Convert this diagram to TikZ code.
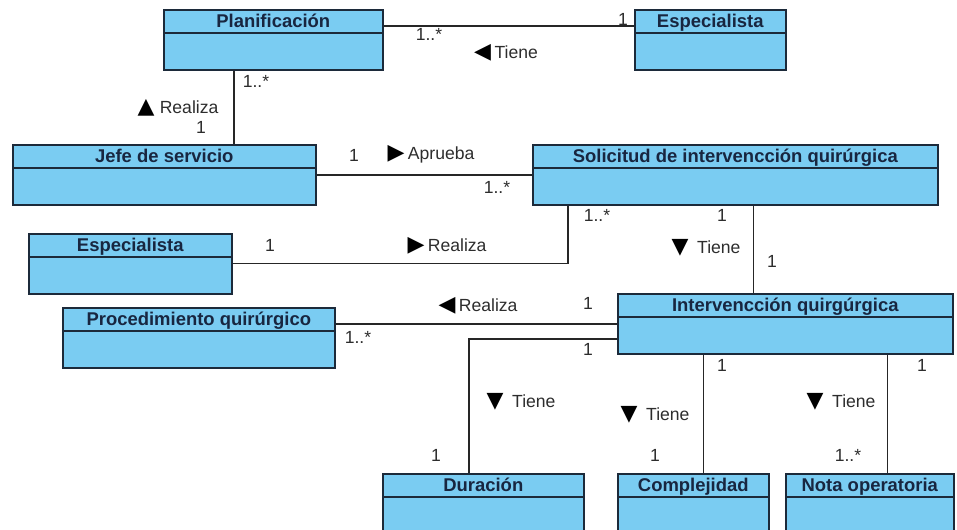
\documentclass[tikz,border=0pt]{standalone}
\usepackage{fontspec}
\setmainfont{Liberation Sans}
\newfontfamily\simbolos{DejaVu Sans}
\definecolor{celeste}{RGB}{122,204,242}
\definecolor{borde}{RGB}{28,42,58}
\definecolor{tinta}{RGB}{24,38,64}
\definecolor{gris}{RGB}{45,45,45}
\newcommand{\trider}{{\color{black}\simbolos\fontsize{12.5}{12}\selectfont ▶}\hspace{2pt}}
\newcommand{\triizq}{{\color{black}\simbolos\fontsize{12.5}{12}\selectfont ◀}\hspace{2pt}}
\newcommand{\triarr}{{\color{black}\simbolos\fontsize{12.5}{12}\selectfont ▲}\hspace{3pt}}
\newcommand{\triaba}{{\color{black}\simbolos\fontsize{12.5}{12}\selectfont ▼}\hspace{5pt}}
\tikzset{
    clase/.style ={draw=borde, fill=celeste, line width=0.9pt, anchor=north west, inner sep=0pt,
        text height=9.8pt, text depth=24.3pt, text=tinta, font=\fontsize{10.5}{12}\selectfont\bfseries,
        path picture={\draw[borde, line width=0.9pt] ([yshift=-13.1pt]path picture bounding box.north west) -- ([yshift=-13.1pt]path picture bounding box.north east);}},
    rol/.style ={font=\fontsize{10}{12}\selectfont, text=gris, inner sep=0pt},
    linea/.style ={line width=0.8pt, draw=black!85}}
\begin{document}
\begin{tikzpicture}[x=0.02cm,y=-0.02cm]
        \useasboundingbox (0,0) rectangle (957,529);
        \node[clase, minimum width=219*0.02cm] (plan) at (163,9) {Planificación};
        \node[clase, minimum width=151*0.02cm] (espa) at (634,9) {Especialista};
        \node[clase, minimum width=303*0.02cm] (jefe) at (12,144) {Jefe de servicio};
        \node[clase, minimum width=405*0.02cm] (soli) at (532,144) {Solicitud de intervencción quirúrgica};
        \node[clase, minimum width=203*0.02cm] (espb) at (28,233) {Especialista};
        \node[clase, minimum width=272*0.02cm] (proc) at (62,307) {Procedimiento quirúrgico};
        \node[clase, minimum width=335*0.02cm] (inte) at (617,293) {Intervencción quirgúrgica};
        \node[clase, minimum width=201*0.02cm] (dura) at (382,473) {Duración};
        \node[clase, minimum width=151*0.02cm] (comp) at (617,473) {Complejidad};
        \node[clase, minimum width=168*0.02cm] (nota) at (785,473) {Nota operatoria};
        \draw[linea] ([yshift=-0.34cm]plan.north east) -- ([yshift=-0.34cm]espa.north west);
        \draw[linea] ([xshift=-0.79cm]plan.south) -- ([xshift=-0.79cm]plan.south |- jefe.north);
        \draw[linea] ([yshift=-0.62cm]jefe.north east) -- ([yshift=-0.62cm]soli.north west);
        \draw[linea] (espb.east) -| ([xshift=0.72cm]soli.south west);
        \draw[linea] ([xshift=0.37cm]soli.south) -- ([xshift=0.37cm]soli.south |- inte.north);
        \draw[linea] ([yshift=-0.34cm]proc.north east) -- ([yshift=-0.34cm]proc.north east -| inte.west);
        \draw[linea] ([yshift=-0.92cm]inte.north west) -| ([xshift=-0.29cm]dura.north);
        \draw[linea] ([xshift=0.21cm]comp.north) -- ([xshift=0.21cm]comp.north |- inte.south);
        \draw[linea] ([xshift=0.36cm]nota.north) -- ([xshift=0.36cm]nota.north |- inte.south);
        % multiplicidades y roles
        \node[rol] (m1) at (623,19) {1};
        \node[rol] (m2) at (429,34) {1..*};
        \node[rol] (r1) at (506,53) {\triizq Tiene};
        \node[rol] (m3) at (256,81) {1..*};
        \node[rol] (r2) at (178,108) {\triarr Realiza};
        \node[rol] (m4) at (201,127) {1};
        \node[rol] (m5) at (354,155) {1};
        \node[rol] (r3) at (431,154) {\trider Aprueba};
        \node[rol] (m6) at (497,187) {1..*};
        \node[rol] (m7) at (270,245) {1};
        \node[rol] (r4) at (447,246) {\trider Realiza};
        \node[rol] (m8) at (597,215) {1..*};
        \node[rol] (m9) at (722,215) {1};
        \node[rol] (r5) at (706,248) {\triaba Tiene};
        \node[rol] (m10) at (772,261) {1};
        \node[rol] (r6) at (478,306) {\triizq Realiza};
        \node[rol] (m11) at (588,303) {1};
        \node[rol] (m12) at (358,337) {1..*};
        \node[rol] (m13) at (588,349) {1};
        \node[rol] (r7) at (521,402) {\triaba Tiene};
        \node[rol] (m14) at (436,455) {1};
        \node[rol] (m15) at (722,365) {1};
        \node[rol] (r8) at (655,415) {\triaba Tiene};
        \node[rol] (m16) at (655,455) {1};
        \node[rol] (m17) at (922,365) {1};
        \node[rol] (r9) at (841,402) {\triaba Tiene};
        \node[rol] (m18) at (848,455) {1..*};
\end{tikzpicture}
\end{document}
